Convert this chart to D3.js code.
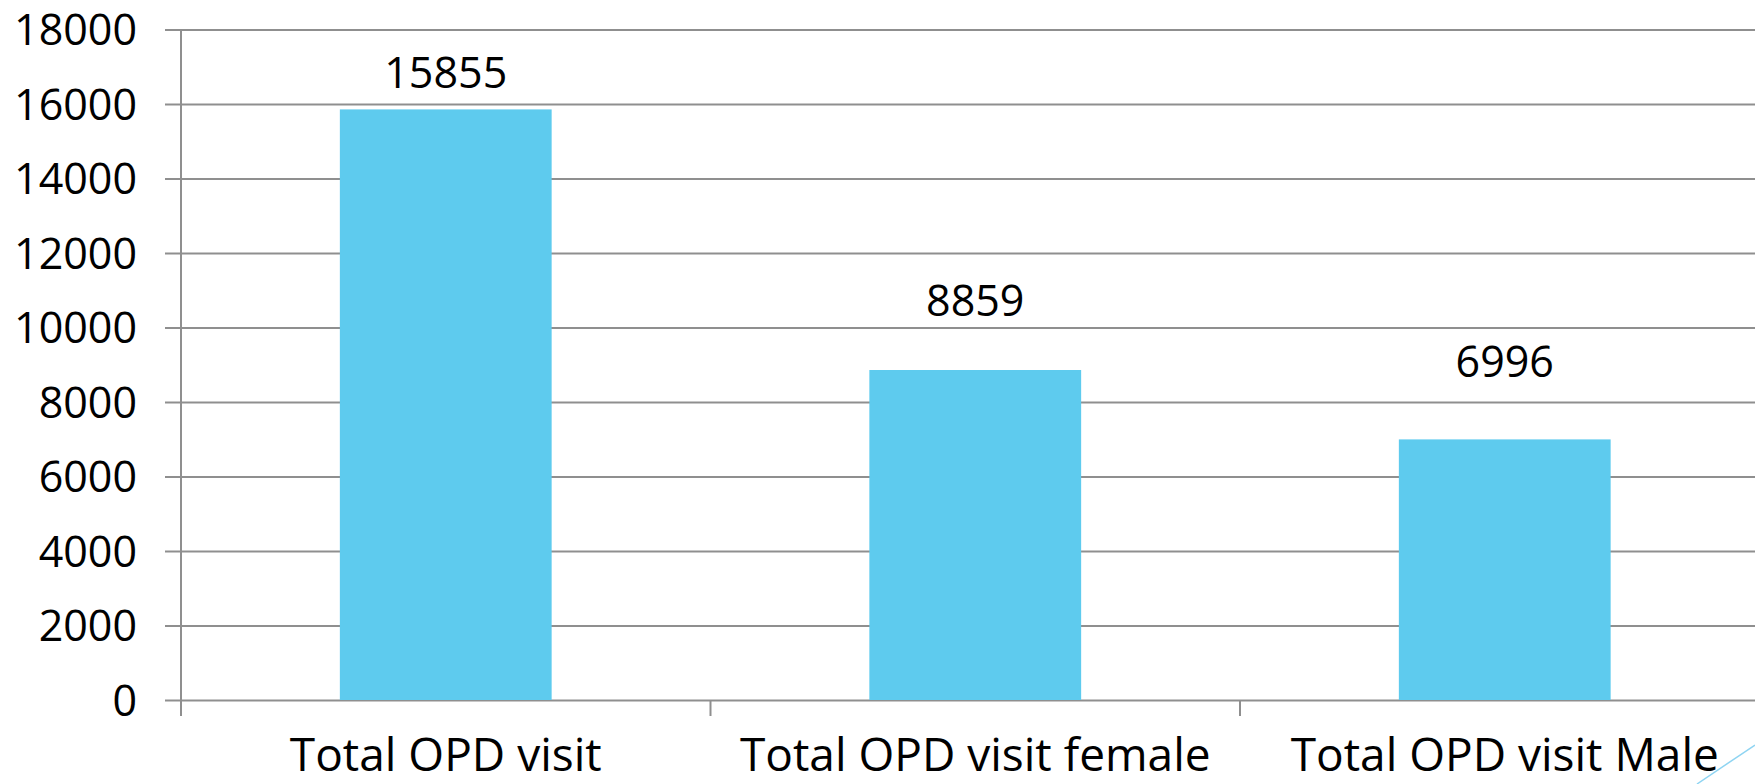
<!DOCTYPE html>
<html>
<head>
<meta charset="utf-8">
<script src="https://cdn.jsdelivr.net/npm/d3@7"></script>
<style>
  html, body { margin: 0; padding: 0; background: #fff; }
  svg { display: block; font-family: "Open Sans", sans-serif; }
</style>
</head>
<body>
<main></main>
<script>
const categories = ["Total OPD visit", "Total OPD visit female", "Total OPD visit Male"];
const values = [15855, 8859, 6996];
const yTicks = [0, 2000, 4000, 6000, 8000, 10000, 12000, 14000, 16000, 18000];

const width = 1755;
const height = 784;
const left = 181;

const svg = d3
  .select("main")
  .append("svg")
  .attr("width", width)
  .attr("height", height);

const y = d3.scaleLinear().domain([0, 18000]).range([700, 29.5]);
// the data labels sit on a slightly squashed scale in the original slide
const yLabel = d3.scaleLinear().domain([0, 18000]).range([605, 18]);

const x = d3
  .scaleBand()
  .domain(categories)
  .range([left, 1769.5])
  .paddingInner(0.6)
  .paddingOuter(0.3);

// y axis + gridlines
const yAxis = svg
  .append("g")
  .attr("transform", `translate(${left}, 0)`)
  .call(
    d3.axisLeft(y).tickValues(yTicks).tickFormat(d3.format("d")).tickSizeOuter(0)
  );

yAxis.select(".domain").remove();
yAxis
  .selectAll(".tick line")
  .attr("x1", -16)
  .attr("x2", width - left)
  .attr("stroke", "#8f8f8f")
  .attr("stroke-width", 2);
yAxis
  .selectAll(".tick text")
  .attr("x", -44)
  .attr("dy", "0.36em")
  .attr("font-size", 43)
  .attr("font-family", "Open Sans")
  .attr("fill", "#000");

// bars
svg
  .selectAll(".bar")
  .data(values)
  .enter()
  .append("rect")
  .attr("class", "bar")
  .attr("x", (d, i) => x(categories[i]))
  .attr("y", (d) => y(d))
  .attr("width", x.bandwidth())
  .attr("height", (d) => y(0) - y(d))
  .attr("fill", "#5ecbee");

// vertical axis line
svg
  .append("line")
  .attr("x1", left)
  .attr("x2", left)
  .attr("y1", y(18000))
  .attr("y2", y(0) + 16)
  .attr("stroke", "#8f8f8f")
  .attr("stroke-width", 2);

// category boundary ticks
svg
  .selectAll(".xtick")
  .data(d3.range(categories.length + 1))
  .enter()
  .append("line")
  .attr("class", "xtick")
  .attr("x1", (i) => x.range()[0] + i * x.step())
  .attr("x2", (i) => x.range()[0] + i * x.step())
  .attr("y1", y(0))
  .attr("y2", y(0) + 16)
  .attr("stroke", "#8f8f8f")
  .attr("stroke-width", 2);

// category labels
const xAxis = svg
  .append("g")
  .attr("transform", `translate(0, ${y(0)})`)
  .call(d3.axisBottom(x).tickSize(0));
xAxis.select(".domain").remove();
xAxis
  .selectAll(".tick text")
  .attr("y", 71)
  .attr("dy", 0)
  .attr("font-size", 46)
  .attr("font-family", "Open Sans")
  .attr("fill", "#000");

// value labels
svg
  .selectAll(".value")
  .data(values)
  .enter()
  .append("text")
  .attr("class", "value")
  .attr("x", (d, i) => x(categories[i]) + x.bandwidth() / 2)
  .attr("y", (d) => yLabel(d))
  .attr("text-anchor", "middle")
  .attr("font-size", 43)
  .attr("fill", "#000")
  .text((d) => d);

// slide decoration in the corner
svg
  .append("line")
  .attr("x1", 1697)
  .attr("y1", 784)
  .attr("x2", 1755)
  .attr("y2", 745)
  .attr("stroke", "#8ed4f2")
  .attr("stroke-width", 1.5);
</script>
</body>
</html>
